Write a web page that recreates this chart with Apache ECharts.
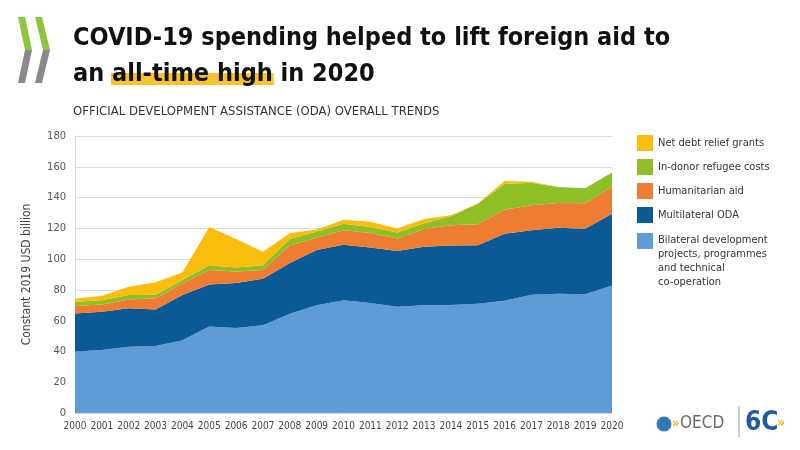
<!DOCTYPE html>
<html>
<head>
<meta charset="utf-8">
<script src="https://cdn.jsdelivr.net/npm/echarts@6/dist/echarts.min.js"></script>
<style>
html, body { margin: 0; padding: 0; background: #fff; }
#chart { width: 800px; height: 450px; }
</style>
</head>
<body>
<div id="chart"></div>
<script>
var years = ['2000', '2001', '2002', '2003', '2004', '2005', '2006', '2007',
		'2008', '2009', '2010', '2011', '2012', '2013', '2014', '2015', '2016',
		'2017', '2018', '2019', '2020'];

// USD billion, constant 2019 prices
var bilateral = [40, 41, 43, 43.5, 47.2, 56.2, 55.3, 57, 64.5, 70, 73.3, 71.5,
		69, 70, 70.2, 71, 73, 76.8, 77.5, 77.2, 82.8];
var multilateral = [24.7, 24.8, 25, 23.7, 29.4, 27.3, 29.2, 30.2, 33, 36, 36,
		36, 36.3, 38, 38.6, 38, 43.4, 42, 42.8, 42.5, 46.6];
var humanitarian = [4.8, 4.7, 5.8, 7.3, 7.6, 9.5, 7.5, 5.8, 11.3, 7.8, 9.5,
		9.5, 8.1, 11.5, 13.2, 13.7, 15.6, 16.2, 16.2, 16.6, 17.7];
var refugee = [2.8, 2.8, 2.8, 2.3, 2.3, 3, 2.6, 3, 4.2, 4.2, 4.2, 3.9, 3.9,
		3.8, 5.9, 13.3, 16.8, 14.7, 10.4, 9.7, 9.2];
var debtRelief = [2.1, 2.7, 5.4, 8.2, 4.8, 24.8, 18.4, 8.8, 3.8, 1.2, 2.5, 3.3,
		2.6, 2.7, 0.6, 0.2, 2, 0.5, 0, 0.1, 0.1];

var names = ['Bilateral development projects, programmes and technical co-operation',
		'Multilateral ODA', 'Humanitarian aid', 'In-donor refugee costs',
		'Net debt relief grants'];
var colors = ['#5d9cd7', '#0b5a96', '#ee7d31', '#8fbf26', '#fbbd0c'];

var FONT = "'Liberation Sans Narrow', 'DejaVu Sans Condensed', 'Open Sans', sans-serif";
var titleLine1 = 'COVID-19 spending helped to lift foreign aid to';
var titleLine2 = 'an all-time high in 2020';

// where the yellow marker goes under "all-time high"
var ctx = document.createElement('canvas').getContext('2d');
ctx.font = 'bold 25px ' + FONT;
var hlStart = 73 + ctx.measureText('an ').width;
var hlWidth = ctx.measureText('all-time high').width;

var myChart = echarts.init(document.getElementById('chart'));

function areaSeries(i, data) {
	return {
		name : names[i],
		type : 'line',
		stack : 'oda',
		data : data,
		symbol : 'none',
		lineStyle : { width : 0 },
		areaStyle : { color : colors[i], opacity : 1 },
		itemStyle : { color : colors[i] },
		z : 2
	};
}

myChart.setOption({
	backgroundColor : '#fff',
	textStyle : { fontFamily : FONT },
	title : [ {
		text : titleLine1 + '\n' + titleLine2,
		left : 73,
		top : 20,
		padding : 0,
		textStyle : {
			fontFamily : FONT,
			fontSize : 25,
			fontWeight : 'bold',
			color : '#111',
			lineHeight : 36
		}
	}, {
		text : 'OFFICIAL DEVELOPMENT ASSISTANCE (ODA) OVERALL TRENDS',
		left : 73,
		top : 105,
		padding : 0,
		textStyle : {
			fontFamily : FONT,
			fontSize : 13,
			fontWeight : 'normal',
			color : '#333'
		}
	} ],
	legend : [ {
		orient : 'vertical',
		left : 637,
		top : 135,
		padding : 0,
		itemWidth : 16,
		itemHeight : 16,
		itemGap : 8,
		icon : 'rect',
		selectedMode : false,
		data : [ names[4], names[3], names[2], names[1] ],
		textStyle : { fontFamily : FONT, fontSize : 11, color : '#333' }
	}, {
		orient : 'vertical',
		left : 637,
		top : 233,
		padding : 0,
		itemWidth : 16,
		itemHeight : 56,
		icon : 'path://M0,0H16V16H0Z M8,56H8.01V56.01H8Z',
		selectedMode : false,
		data : [ names[0] ],
		formatter : function() {
			return 'Bilateral development\nprojects, programmes\nand technical\nco-operation';
		},
		textStyle : { fontFamily : FONT, fontSize : 11, lineHeight : 14, color : '#333' }
	} ],
	grid : {
		left : 75,
		right : 188,
		top : 136,
		bottom : 37
	},
	xAxis : {
		type : 'category',
		data : years,
		boundaryGap : false,
		axisLine : { show : false },
		axisTick : { show : false },
		axisLabel : {
			fontFamily : FONT,
			fontSize : 10,
			color : '#444',
			margin : 8,
			interval : 0
		}
	},
	yAxis : {
		type : 'value',
		min : 0,
		max : 180,
		interval : 20,
		name : 'Constant 2019 USD billion',
		nameLocation : 'middle',
		nameGap : 42,
		nameTextStyle : { fontFamily : FONT, fontSize : 12, color : '#444' },
		axisLine : { show : true, lineStyle : { color : '#d9d9d9' } },
		axisTick : { show : false },
		axisLabel : {
			fontFamily : FONT,
			fontSize : 11,
			color : '#555',
			margin : 9
		},
		splitLine : { lineStyle : { color : '#dcdcdc', width : 1 } }
	},
	series : [ areaSeries(0, bilateral), areaSeries(1, multilateral),
			areaSeries(2, humanitarian), areaSeries(3, refugee),
			areaSeries(4, debtRelief) ],
	graphic : [
		// marker under the headline words
		{ type : 'rect', z : 0, shape : { x : hlStart - 1, y : 73, width : hlWidth + 2, height : 12 },
			style : { fill : '#fbc02d' } },
		// OECD chevrons, top left
		{ type : 'polygon', shape : { points : [[18,17],[25,17],[32,50],[25,50]] }, style : { fill : '#8cc63f' } },
		{ type : 'polygon', shape : { points : [[25,50],[32,50],[25,83],[18,83]] }, style : { fill : '#8a8a8a' } },
		{ type : 'polygon', shape : { points : [[35,17],[42,17],[50,50],[43,50]] }, style : { fill : '#8cc63f' } },
		{ type : 'polygon', shape : { points : [[43,50],[50,50],[42,83],[35,83]] }, style : { fill : '#8a8a8a' } },
		// OECD 60 logo, bottom right
		{ type : 'circle', shape : { cx : 664, cy : 424, r : 7.5 }, style : { fill : '#2e78b7' } },
		{ type : 'text', x : 672, y : 424, style : { text : '»', fill : '#f2b705', font : 'bold 13px ' + FONT, verticalAlign : 'middle' } },
		{ type : 'text', x : 680, y : 424, style : { text : 'OECD', fill : '#6b6b6b', font : '17px ' + FONT, verticalAlign : 'middle' } },
		{ type : 'line', shape : { x1 : 739, y1 : 406, x2 : 739, y2 : 437 }, style : { stroke : '#9a9a9a', lineWidth : 1 } },
		{ type : 'text', x : 745, y : 423, style : { text : '6C', fill : '#1d5b9e', font : 'bold 26px ' + FONT, verticalAlign : 'middle' } },
		{ type : 'text', x : 777, y : 423, style : { text : '»', fill : '#f2b705', font : 'bold 14px ' + FONT, verticalAlign : 'middle' } }
	]
});
</script>
</body>
</html>
